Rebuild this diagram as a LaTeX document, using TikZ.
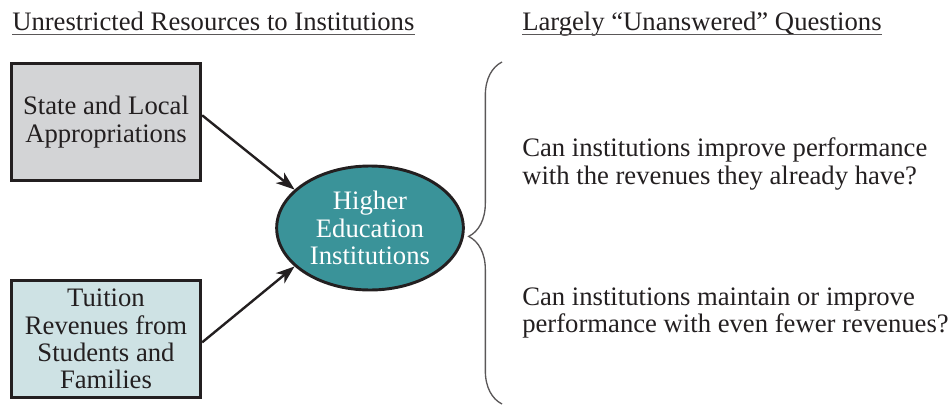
\documentclass[tikz,border=0pt]{standalone}
\usepackage{fontspec}
\setmainfont{Liberation Serif}
\usetikzlibrary{arrows.meta,decorations.pathreplacing,shapes.geometric}
\definecolor{ink}{HTML}{231F20}
\definecolor{approgray}{HTML}{D3D4D6}
\definecolor{tuitionblue}{HTML}{CEE2E4}
\definecolor{heiteal}{HTML}{3A9399}
\begin{document}
\begin{tikzpicture}[x=0.75pt,y=0.75pt,
  font=\fontsize{20}{20.5}\selectfont, text=ink,
  srcbox/.style={draw=ink, line width=2.2pt, minimum width=142pt, minimum height=88pt, align=center, inner sep=0pt},
  flow/.style={-{Stealth[length=14pt,width=10pt,inset=4pt]}, line width=1.8pt, draw=ink},
  heading/.style={anchor=base west, inner sep=0pt},
  question/.style={anchor=west, align=left, inner sep=0pt}]
\useasboundingbox (0,0) rectangle (952,-407);

% Column headings, underlined
\node[heading] (headleft) at (12,-31) {Unrestricted Resources to Institutions};
\node[heading] (headright) at (522,-31) {Largely “Unanswered” Questions};
\draw[ink!75, line width=1.1pt] ([yshift=-2.5pt]headleft.base west) -- ([yshift=-2.5pt]headleft.base east);
\draw[ink!75, line width=1.1pt] ([yshift=-2.5pt]headright.base west) -- ([yshift=-2.5pt]headright.base east);

% Resource boxes
\node[srcbox, fill=approgray] (approp) at (106,-122) {State and Local\\Appropriations};
\node[srcbox, fill=tuitionblue] (tuition) at (106,-339) {Tuition\\Revenues from\\Students and\\Families};

% Institutions
\node[ellipse, draw=ink, line width=2.2pt, fill=heiteal, text=white, minimum width=140pt, minimum height=93pt, inner sep=0pt, align=center] (hei) at (370,-228) {Higher\\Education\\Institutions};

\draw[flow] (approp.4) -- (hei.153);
\draw[flow] (tuition.-2) -- (hei.207);

% Brace and questions
\draw[ink!75, line width=1pt, decorate, decoration={brace, amplitude=25pt, aspect=0.49}] (502,-404) -- (502,-62);
\node[question] (qnow) at (522,-164) {Can institutions improve performance\\with the revenues they already have?};
\node[question] (qfewer) at (522,-313) {Can institutions maintain or improve\\performance with even fewer revenues?};
\end{tikzpicture}
\end{document}
